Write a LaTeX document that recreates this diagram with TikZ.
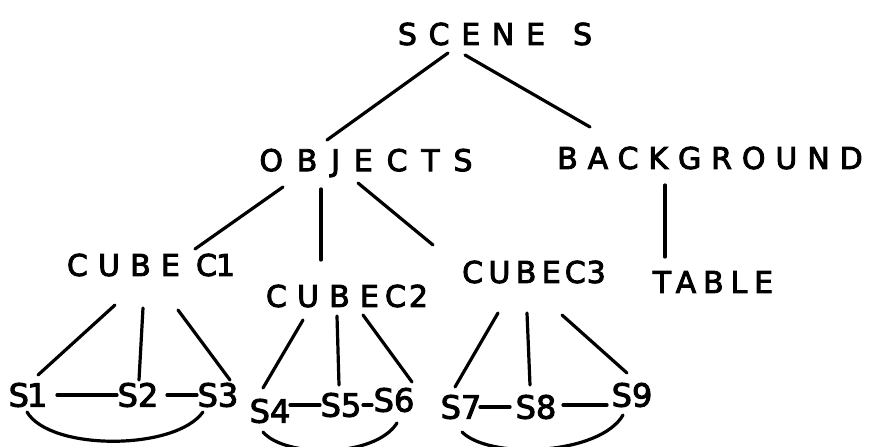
\documentclass[tikz,border=0pt]{standalone}
\usepackage{fontspec}
\setmainfont{DejaVu Sans}[FakeBold=3]
\usetikzlibrary{calc}
% letter-spaced word
\newcommand\spaced[2]{{\addfontfeature{LetterSpace=#1}#2}}
\begin{document}
\begin{tikzpicture}[x=1pt,y=-1pt,
  lbl/.style={font=\fontsize{30}{30}\selectfont, inner sep=0pt},
  sl/.style={font=\fontsize{32}{32}\selectfont, inner sep=0pt},
  edge/.style={line width=3.2pt, line cap=round}]
\useasboundingbox[fill=white] (0,0) rectangle (871,447);

% tree labels
\node[lbl] (scene)      at (495,34)  {\spaced{39}{SCENE}\hspace{28pt}S};
\node[lbl] (objects)    at (366,163) {\spaced{46}{OBJECTS}};
\node[lbl] (background) at (710,158) {\spaced{33}{BACKGROUND}};
\node[lbl] (cube1)      at (151,265) {\spaced{34}{CUBE}\hspace{16pt}C\kern-1pt1};
\node[lbl] (cube2)      at (347,296) {\spaced{34}{CUBE}\hspace{6pt}C\kern3pt2};
\node[lbl] (cube3)      at (534,272) {\spaced{18}{CUBE}\hspace{4pt}C\kern1pt3};
\node[lbl] (table)      at (713,282) {\spaced{23}{TABLE}};

% surfaces
\node[sl] (s1) at (28,395)  {S\kern-2pt1};
\node[sl] (s2) at (138,395) {S2};
\node[sl] (s3) at (218,395) {S3};
\node[sl] (s4) at (270,411) {S4};
\node[sl] (s5) at (341,405) {S5};
\node[sl] (s6) at (394,400) {S6};
\node[sl] (s7) at (461,407) {S7};
\node[sl] (s8) at (536,407) {S8};
\node[sl] (s9) at (632,395) {S9};

% upper levels
\draw[edge] ($(scene)+(-47,19)$)       -- ($(objects)+(-39,-23)$);
\draw[edge] ($(scene)+(-30,21)$)       -- ($(background)+(-120,-31)$);
\draw[edge] ($(objects)+(-83,24)$)     -- ($(cube1)+(44,-16)$);
\draw[edge] ($(objects)+(-45,26)$)     -- ($(cube2)+(-26,-36)$);
\draw[edge] ($(objects)+(-8,20)$)      -- ($(cube3)+(-101,-27)$);
\draw[edge] ($(background)+(-45,27)$)  -- ($(table)+(-48,-25)$);

% cube C1
\draw[edge] ($(cube1)+(-36,40)$) -- ($(s1)+(10,-20)$);
\draw[edge] ($(cube1)+(-8,43)$)  -- ($(s2)+(1,-15)$);
\draw[edge] ($(cube1)+(27,45)$)  -- ($(s3)+(12,-15)$);
\draw[edge] ($(s1)+(29,0)$) -- ($(s2)+(-21,0)$);
\draw[edge] ($(s2)+(29,0)$) -- ($(s3)+(-21,0)$);
\draw[edge] ($(s1)+(-1,17)$) .. controls (50,451) and (175,451) .. ($(s3)+(-15,17)$);

% cube C2
\draw[edge] ($(cube2)+(-44,24)$) -- ($(s4)+(-7,-23)$);
\draw[edge] ($(cube2)+(-10,20)$) -- ($(s5)+(-2,-20)$);
\draw[edge] ($(cube2)+(16,19)$)  -- ($(s6)+(18,-18)$);
\draw[edge] ($(s4)+(20,-6)$) -- ($(s5)+(-21,0)$);
\draw[edge] ($(s5)+(22,0)$)  -- ($(s6)+(-22,5)$);
\draw[edge] ($(s4)+(-7,21)$) .. controls (285,458) and (375,458) .. ($(s6)+(3,23)$);

% cube C3
\draw[edge] ($(cube3)+(-36,41)$) -- ($(s7)+(-6,-20)$);
\draw[edge] ($(cube3)+(-7,41)$)  -- ($(s8)+(-6,-22)$);
\draw[edge] ($(cube3)+(28,43)$)  -- ($(s9)+(-5,-22)$);
\draw[edge] ($(s7)+(19,0)$)  -- ($(s8)+(-26,0)$);
\draw[edge] ($(s8)+(27,-2)$) -- ($(s9)+(-25,10)$);
\draw[edge] ($(s7)+(1,25)$) .. controls (490,460) and (600,455) .. ($(s9)+(-9,20)$);
\end{tikzpicture}
\end{document}
